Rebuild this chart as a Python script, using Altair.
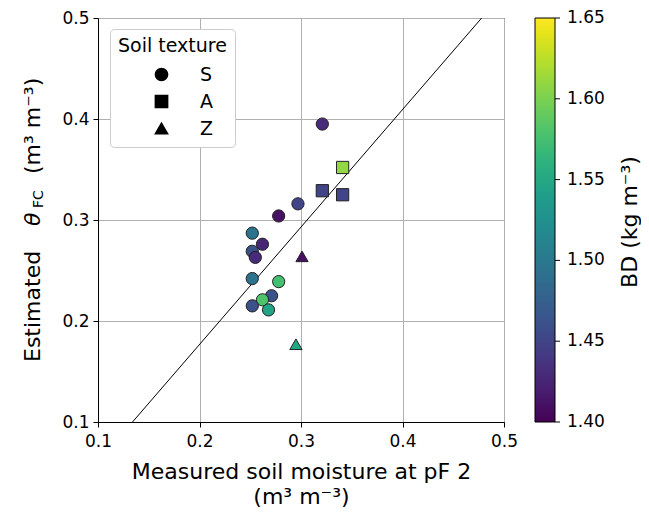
import altair as alt
import pandas as pd

# data
measured = [0.321, 0.341, 0.321, 0.341, 0.297, 0.278, 0.252, 0.262, 0.252, 0.255, 0.301,
            0.252, 0.278, 0.271, 0.262, 0.252, 0.268, 0.295]
estimated = [0.395, 0.352, 0.329, 0.325, 0.316, 0.304, 0.287, 0.276, 0.269, 0.263, 0.264,
             0.242, 0.239, 0.225, 0.221, 0.215, 0.211, 0.177]
texture = ["S", "A", "A", "A", "S", "S", "S", "S", "S", "S", "Z",
           "S", "S", "S", "S", "S", "S", "Z"]
bulk_density = [1.43, 1.61, 1.45, 1.45, 1.45, 1.41, 1.495, 1.425, 1.46, 1.43, 1.41,
                1.495, 1.575, 1.46, 1.58, 1.46, 1.545, 1.55]

fit_x = [0.134, 0.478]
fit_y = [0.1, 0.5]

axis_ticks = [0.1, 0.2, 0.3, 0.4, 0.5]
bd_ticks = [1.40, 1.45, 1.50, 1.55, 1.60, 1.65]
bd_labels = ["1.40", "1.45", "1.50", "1.55", "1.60", "1.65"]
texture_order = ["S", "A", "Z"]
texture_shapes = ["circle", "square", "triangle-up"]

ylab_parts = ["Estimated", "θ", "FC", "(m³ m⁻³)"]
cbar_title = ["BD (kg m⁻³)"]

W, H = 406, 404
AX_DOMAIN = [0.1, 0.5]
BD_DOMAIN = [1.40, 1.65]

df = pd.DataFrame({"measured": measured, "estimated": estimated,
                   "texture": texture, "bd": bulk_density})
line_df = pd.DataFrame({"x": fit_x, "y": fit_y})
cb_df = pd.DataFrame({"v": bd_ticks, "lab": bd_labels})

xscale = alt.Scale(domain=AX_DOMAIN, nice=False, zero=False)
yscale = alt.Scale(domain=AX_DOMAIN, nice=False, zero=False)

xaxis = alt.Axis(values=axis_ticks, format=".1f", title=["Measured soil moisture at pF 2", "(m³ m⁻³)"],
                 titleFontSize=22, titleFontWeight="normal", labelFontSize=17, titlePadding=12,
                 titleLineHeight=25, labelFlush=False,
                 tickColor="black", domainColor="black", labelColor="black", titleColor="black",
                 gridColor="#b0b0b0", tickSize=5, labelPadding=6)
yaxis = alt.Axis(values=axis_ticks, format=".1f", title="", labelFlush=False,
                 labelFontSize=17, tickColor="black", domainColor="black", labelColor="black",
                 gridColor="#b0b0b0", tickSize=5, labelPadding=4)

points = alt.Chart(df).mark_point(filled=True, size=150, stroke="#222222", strokeWidth=1, opacity=1).encode(
    x=alt.X("measured:Q", scale=xscale, axis=xaxis),
    y=alt.Y("estimated:Q", scale=yscale, axis=yaxis),
    color=alt.Color("bd:Q", scale=alt.Scale(scheme="viridis", domain=BD_DOMAIN),
                    title=None,
                    legend=alt.Legend(orient="none", legendX=437, legendY=0, direction="vertical",
                                      gradientLength=H, gradientThickness=20,
                                      gradientStrokeColor="black", gradientStrokeWidth=1,
                                      values=bd_ticks, labelExpr="''", labelFontSize=1)),
    shape=alt.Shape("texture:N", scale=alt.Scale(domain=texture_order, range=texture_shapes),
                    title="Soil texture",
                    legend=alt.Legend(orient="none", legendX=12, legendY=11,
                                      titleFontSize=19, titleFontWeight="normal", titleColor="black",
                                      labelFontSize=19, labelColor="black",
                                      symbolFillColor="black", symbolStrokeColor="black",
                                      symbolSize=150, symbolOffset=34, labelOffset=29,
                                      rowPadding=7, titlePadding=9, padding=8,
                                      strokeColor="#cccccc", cornerRadius=4, fillColor="white")),
)

line = alt.Chart(line_df).mark_line(color="black", strokeWidth=1, clip=True).encode(
    x=alt.X("x:Q", scale=xscale), y=alt.Y("y:Q", scale=yscale)
)

# colorbar ticks and labels: map BD tick values onto the plot's vertical extent
cb_base = alt.Chart(cb_df).transform_calculate(
    pos=f"{AX_DOMAIN[0]} + (datum.v - {BD_DOMAIN[0]}) / ({BD_DOMAIN[1]} - {BD_DOMAIN[0]}) * ({AX_DOMAIN[1]} - {AX_DOMAIN[0]})"
)
cb_ticks = cb_base.mark_rule(color="black", strokeWidth=1).encode(
    y=alt.Y("pos:Q", scale=yscale), x=alt.value(457), x2=alt.value(462))
cb_text = cb_base.mark_text(align="left", baseline="middle", fontSize=17, color="black").encode(
    y=alt.Y("pos:Q", scale=yscale), x=alt.value(469), text="lab:N")


def rot_text(txt, x, y, size, italic=False, align="left"):
    return alt.Chart(pd.DataFrame({"t": [txt]})).mark_text(
        angle=270, align=align, baseline="alphabetic", fontSize=size, color="black",
        fontStyle="italic" if italic else "normal").encode(
        x=alt.value(x), y=alt.value(y), text="t:N")


ylab1 = rot_text(ylab_parts[0], -58, 344, 22)
ylab2 = rot_text(ylab_parts[1], -58, 208, 22, italic=True)
ylab3 = rot_text(ylab_parts[2], -55, 190, 14)
ylab4 = rot_text(ylab_parts[3], -58, 156, 22)
cbar_lab = rot_text(cbar_title[0], 539, 204, 22, align="center")

chart = alt.layer(line, points, cb_ticks, cb_text, ylab1, ylab2, ylab3, ylab4, cbar_lab).properties(
    width=W, height=H,
    autosize=alt.AutoSizeParams(type="none"),
    padding={"left": 90, "top": 10, "right": 137, "bottom": 89},
).configure(font="DejaVu Sans").configure_view(stroke="black", strokeWidth=1).configure_axis(
    gridWidth=1
)

chart.save("out.html", embed_options={"renderer": "svg", "actions": False})
